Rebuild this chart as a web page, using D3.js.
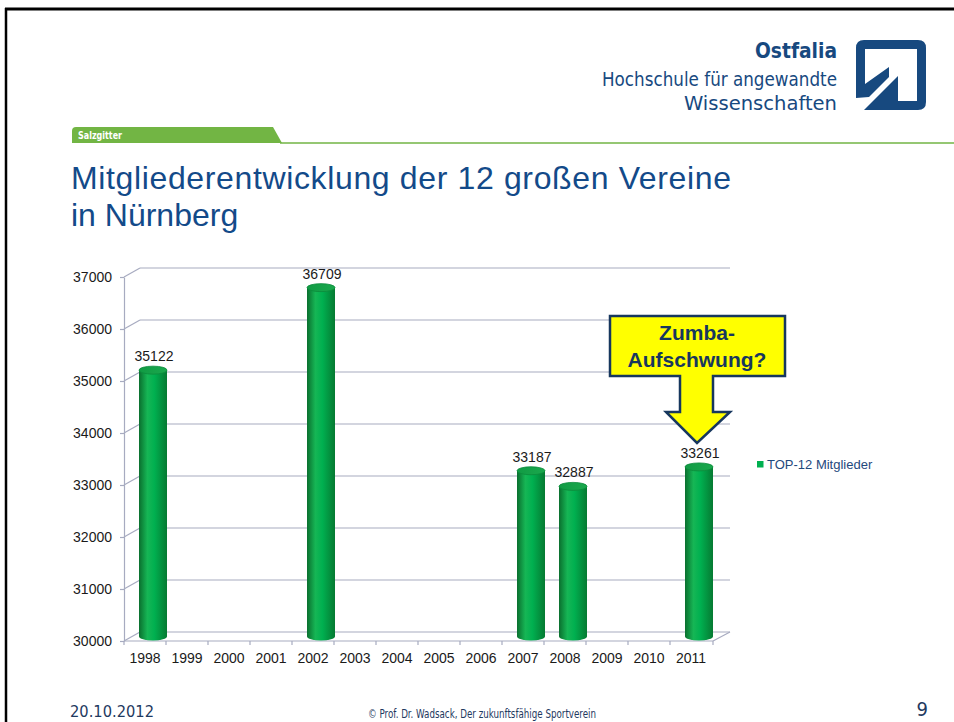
<!DOCTYPE html>
<html>
<head>
<meta charset="utf-8">
<script src="https://cdn.jsdelivr.net/npm/d3@7"></script>
<style>
  body { margin: 0; background: #fff; }
  svg { display: block; }
</style>
</head>
<body>
<div id="slide"></div>
<script>
// chart data
const years = ["1998", "1999", "2000", "2001", "2002", "2003", "2004", "2005", "2006", "2007", "2008", "2009", "2010", "2011"];
const members = [35122, null, null, null, 36709, null, null, null, null, 33187, 32887, null, null, 33261];
const yTicks = [30000, 31000, 32000, 33000, 34000, 35000, 36000, 37000];
const seriesName = "TOP-12 Mitglieder";
const calloutLines = ["Zumba-", "Aufschwung?"];
const titleLines = ["Mitgliederentwicklung der 12 großen Vereine", "in Nürnberg"];

const width = 954;
const height = 722;
const plot = { left: 124, right: 712, top: 277, bottom: 641 };
const depth = { dx: 16, dy: -9 };

const navy = "#17497f";
const gridColor = "#a7abc0";
const green = "#72b544";
const font = "'Liberation Sans', Arial, sans-serif";
const narrow = "'Liberation Sans Narrow', 'DejaVu Sans Condensed', 'Liberation Sans', sans-serif";

const svg = d3.select("#slide").append("svg")
    .attr("width", width)
    .attr("height", height);

// slide frame
svg.append("line").attr("x1", 5).attr("x2", width).attr("y1", 9).attr("y2", 9)
    .attr("stroke", "#000").attr("stroke-width", 3);
svg.append("line").attr("x1", 6).attr("x2", 6).attr("y1", 8).attr("y2", height)
    .attr("stroke", "#000").attr("stroke-width", 2.5);

// header: Ostfalia logo text
const logoText = [
    { t: "Ostfalia", y: 58, w: 82, size: 21, bold: true },
    { t: "Hochschule für angewandte", y: 86, w: 235, size: 19, bold: false },
    { t: "Wissenschaften", y: 110, w: 153, size: 19, bold: false }
];
svg.selectAll(".logo-text")
    .data(logoText)
    .enter()
    .append("text")
    .attr("class", "logo-text")
    .attr("x", d => 837 - d.w)
    .attr("y", d => d.y)
    .attr("textLength", d => d.w)
    .attr("lengthAdjust", "spacingAndGlyphs")
    .style("font-family", narrow)
    .style("font-size", d => d.size + "px")
    .style("font-weight", d => d.bold ? "bold" : "normal")
    .style("fill", navy)
    .text(d => d.t);

// logo icon
const logo = svg.append("g").attr("transform", "translate(856,40)");
logo.append("path")
    .attr("d", "M0,58 L0,8 Q0,0 8,0 L62,0 Q70,0 70,8 L70,62 Q70,70 62,70 L8,70 L42,36 L42,61 L61,61 L61,9 L9,9 L9,44 L33,27 L33,37 L13,57 Z")
    .attr("fill", navy);

// green tab
svg.append("path")
    .attr("d", "M72,143 L72,131 Q72,127 76,127 L273,127 L282,143 Z")
    .attr("fill", green);
svg.append("line")
    .attr("x1", 280).attr("x2", width).attr("y1", 143).attr("y2", 143)
    .attr("stroke", green).attr("stroke-width", 1.7);
svg.append("text")
    .attr("x", 78).attr("y", 138.5)
    .attr("textLength", 44)
    .attr("lengthAdjust", "spacingAndGlyphs")
    .style("font-family", narrow)
    .style("font-size", "10.5px")
    .style("font-weight", "bold")
    .style("fill", "#fff")
    .text("Salzgitter");

// title
svg.selectAll(".title")
    .data(titleLines)
    .enter()
    .append("text")
    .attr("class", "title")
    .attr("x", 71)
    .attr("y", (d, i) => 189 + i * 37)
    .attr("textLength", (d, i) => i === 0 ? 660 : null)
    .attr("lengthAdjust", "spacing")
    .style("font-family", font)
    .style("font-size", "32px")
    .style("fill", "#134a89")
    .text(d => d);

// scales
const xScale = d3.scaleBand()
    .domain(years)
    .range([plot.left, plot.right])
    .padding(0);

const yScale = d3.scaleLinear()
    .domain([30000, 37000])
    .range([plot.bottom, plot.top]);

const chart = svg.append("g");

// back wall gridlines + side diagonals
chart.selectAll(".grid")
    .data(yTicks)
    .enter()
    .append("line")
    .attr("class", "grid")
    .attr("x1", plot.left + depth.dx)
    .attr("x2", plot.right + 2 + depth.dx)
    .attr("y1", d => yScale(d) + depth.dy)
    .attr("y2", d => yScale(d) + depth.dy)
    .attr("stroke", gridColor)
    .attr("stroke-width", 1.2);

chart.selectAll(".grid-diag")
    .data(yTicks)
    .enter()
    .append("line")
    .attr("class", "grid-diag")
    .attr("x1", plot.left)
    .attr("x2", plot.left + depth.dx)
    .attr("y1", d => yScale(d))
    .attr("y2", d => yScale(d) + depth.dy)
    .attr("stroke", gridColor)
    .attr("stroke-width", 1.2);

// floor front edge and right diagonal
chart.append("line")
    .attr("x1", plot.left).attr("x2", plot.right + 1)
    .attr("y1", yScale(30000)).attr("y2", yScale(30000))
    .attr("stroke", gridColor).attr("stroke-width", 1.2);
chart.append("line")
    .attr("x1", plot.right + 1).attr("x2", plot.right + 2 + depth.dx)
    .attr("y1", yScale(30000)).attr("y2", yScale(30000) + depth.dy)
    .attr("stroke", gridColor).attr("stroke-width", 1.2);

// y axis
const yAxis = chart.append("g")
    .attr("transform", `translate(${plot.left}, 0)`)
    .call(d3.axisLeft(yScale).tickValues(yTicks).tickFormat(d3.format("d")).tickSize(4).tickSizeOuter(0).tickPadding(8));
yAxis.select(".domain").attr("stroke", gridColor).attr("stroke-width", 1.2);
yAxis.selectAll(".tick line").attr("stroke", gridColor).attr("stroke-width", 1.2);
yAxis.selectAll("text")
    .style("font-family", font)
    .style("font-size", "14px")
    .style("fill", "#1a1a1a");

// x axis (labels centred in bands, ticks on band edges)
const xAxis = chart.append("g")
    .attr("transform", `translate(0, ${plot.bottom})`)
    .call(d3.axisBottom(xScale).tickSize(0).tickPadding(12));
xAxis.select(".domain").remove();
xAxis.selectAll("text")
    .style("font-family", font)
    .style("font-size", "14px")
    .style("fill", "#1a1a1a");

chart.selectAll(".x-tick")
    .data(years.map(d => xScale(d)).concat([plot.right + 1]))
    .enter()
    .append("line")
    .attr("class", "x-tick")
    .attr("x1", d => d).attr("x2", d => d)
    .attr("y1", plot.bottom).attr("y2", plot.bottom + 4)
    .attr("stroke", gridColor).attr("stroke-width", 1.2);

// cylinder gradients
const defs = svg.append("defs");
const bodyGrad = defs.append("linearGradient").attr("id", "cyl-body");
bodyGrad.append("stop").attr("offset", "0%").attr("stop-color", "#0a6f2e");
bodyGrad.append("stop").attr("offset", "30%").attr("stop-color", "#16b655");
bodyGrad.append("stop").attr("offset", "55%").attr("stop-color", "#00b050");
bodyGrad.append("stop").attr("offset", "100%").attr("stop-color", "#067a32");
const topGrad = defs.append("linearGradient").attr("id", "cyl-top");
topGrad.append("stop").attr("offset", "0%").attr("stop-color", "#119b44");
topGrad.append("stop").attr("offset", "100%").attr("stop-color", "#1aa84d");

const barData = years.map((y, i) => ({ year: y, value: members[i] })).filter(d => d.value !== null);
const barW = 28;
const rY = 4;
const cx = d => xScale(d.year) + xScale.bandwidth() / 2 + depth.dx / 2;
const baseY = yScale(30000) + depth.dy / 2;

const bars = chart.selectAll(".bar")
    .data(barData)
    .enter()
    .append("g")
    .attr("class", "bar");

bars.append("ellipse")
    .attr("cx", cx)
    .attr("cy", baseY)
    .attr("rx", barW / 2)
    .attr("ry", rY)
    .attr("fill", "url(#cyl-body)");

bars.append("rect")
    .attr("x", d => cx(d) - barW / 2)
    .attr("y", d => yScale(d.value) + depth.dy / 2)
    .attr("width", barW)
    .attr("height", d => baseY - (yScale(d.value) + depth.dy / 2))
    .attr("fill", "url(#cyl-body)");

bars.append("ellipse")
    .attr("cx", cx)
    .attr("cy", d => yScale(d.value) + depth.dy / 2)
    .attr("rx", barW / 2)
    .attr("ry", rY)
    .attr("fill", "url(#cyl-top)")
    .attr("stroke", "#0b8a3b")
    .attr("stroke-width", 0.8);

// data labels
chart.selectAll(".value-label")
    .data(barData)
    .enter()
    .append("text")
    .attr("class", "value-label")
    .attr("x", d => cx(d) + 1)
    .attr("y", d => yScale(d.value) - 13.5)
    .attr("text-anchor", "middle")
    .style("font-family", font)
    .style("font-size", "14px")
    .style("fill", "#1a1a1a")
    .text(d => d.value);

// legend
const legend = svg.append("g").attr("transform", "translate(757, 461)");
legend.append("rect").attr("width", 6.5).attr("height", 6.5).attr("fill", "#00b050");
legend.append("text")
    .attr("x", 10)
    .attr("y", 7.5)
    .style("font-family", font)
    .style("font-size", "13px")
    .style("fill", "#1f497d")
    .text(seriesName);

// callout arrow pointing at 2011
const callout = svg.append("g");
callout.append("path")
    .attr("d", "M610,316 L785,316 L785,376 L713,376 L713,412 L730,412 L697,443 L666,412 L680,412 L680,376 L610,376 Z")
    .attr("fill", "#ffff00")
    .attr("stroke", "#17375e")
    .attr("stroke-width", 2.5)
    .attr("stroke-linejoin", "miter");
callout.selectAll("text")
    .data(calloutLines)
    .enter()
    .append("text")
    .attr("x", 697)
    .attr("y", (d, i) => 340 + i * 27)
    .attr("text-anchor", "middle")
    .style("font-family", font)
    .style("font-size", "21px")
    .style("font-weight", "bold")
    .style("fill", "#17375e")
    .text(d => d);

// footer
svg.append("text")
    .attr("x", 70).attr("y", 717)
    .attr("textLength", 84).attr("lengthAdjust", "spacingAndGlyphs")
    .style("font-family", narrow).style("font-size", "15px").style("fill", "#1f3a5f")
    .text("20.10.2012");
svg.append("text")
    .attr("x", 368).attr("y", 718)
    .attr("textLength", 228).attr("lengthAdjust", "spacingAndGlyphs")
    .style("font-family", narrow).style("font-size", "12px").style("fill", "#1f3a5f")
    .text("© Prof. Dr. Wadsack, Der zukunftsfähige Sportverein");
svg.append("text")
    .attr("x", 928).attr("y", 716)
    .attr("text-anchor", "end")
    .style("font-family", narrow).style("font-size", "20px").style("fill", "#1f3a5f")
    .text("9");
</script>
</body>
</html>
